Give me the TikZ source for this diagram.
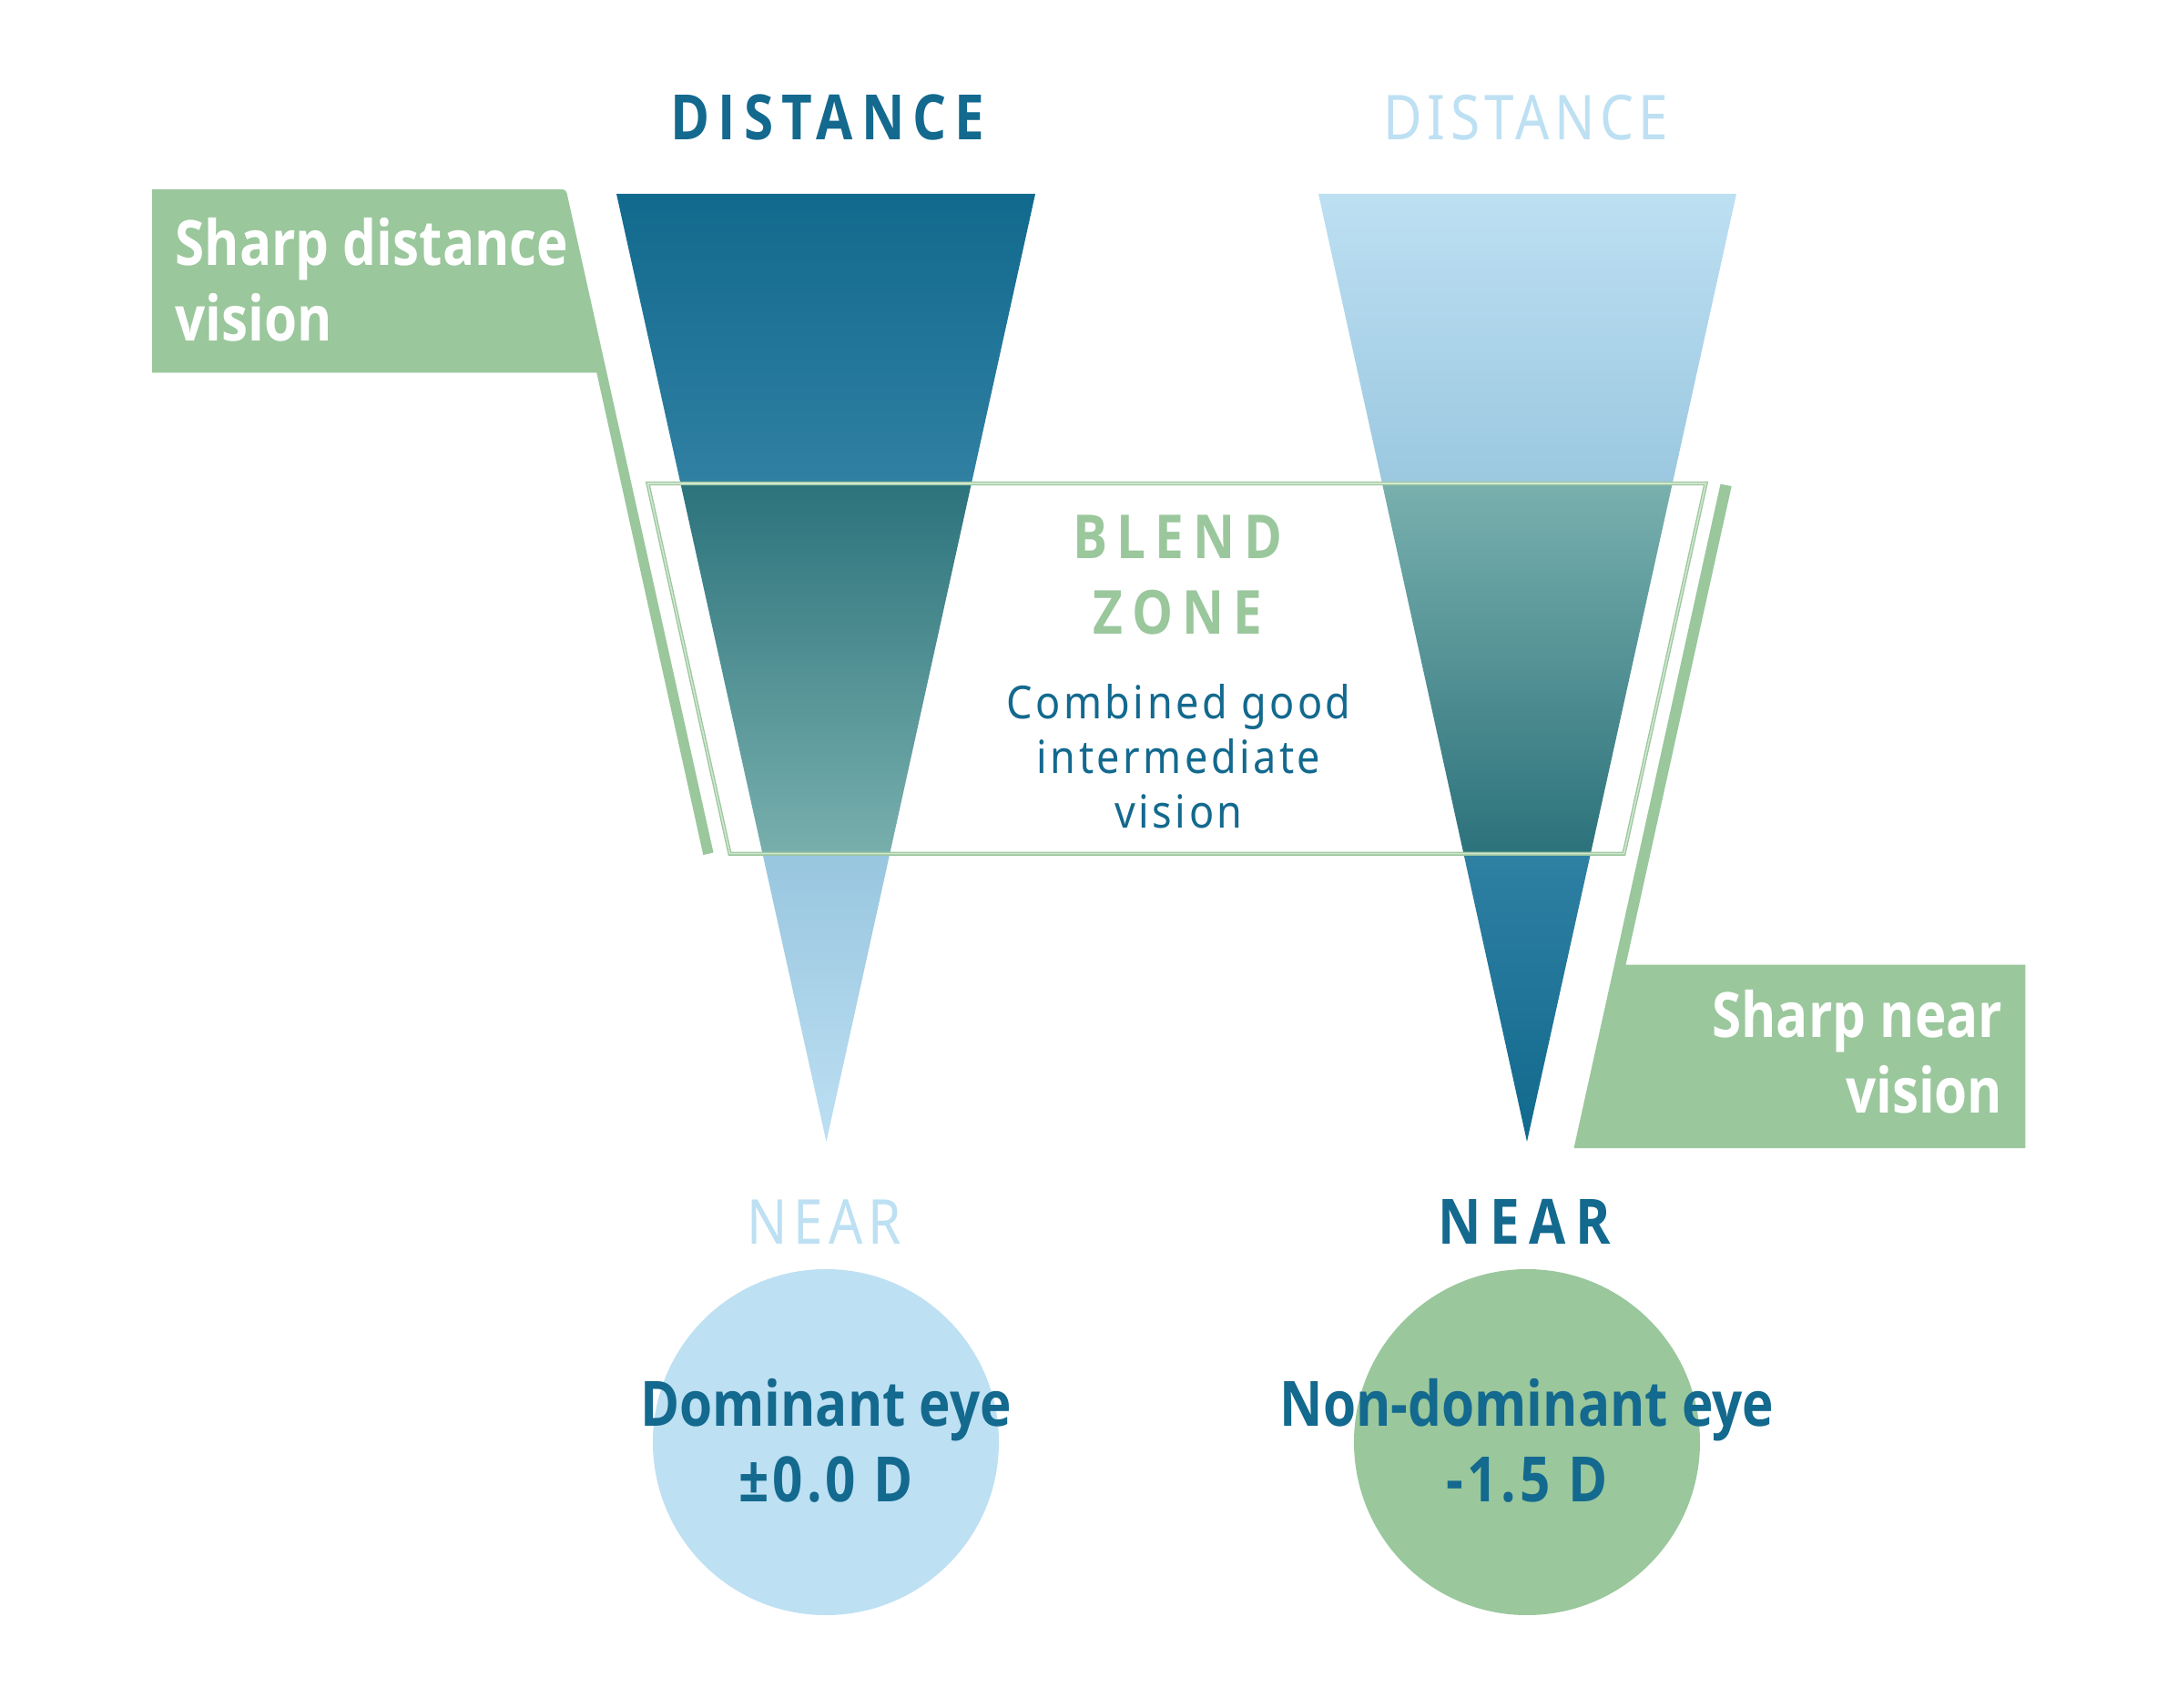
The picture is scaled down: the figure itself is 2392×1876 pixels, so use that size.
\documentclass[tikz,border=0pt]{standalone}
\usepackage{fontspec}
\setmainfont{Noto Sans}[FakeStretch=0.86]
\IfFontExistsTF{Noto Sans Bold}
  {\newfontfamily\boldf{Noto Sans Bold}[FakeStretch=0.85]}
  {\IfFontExistsTF{Open Sans Bold}
    {\newfontfamily\boldf{Open Sans Bold}[FakeStretch=0.85]}
    {\newfontfamily\boldf{Noto Sans}[FakeStretch=0.85,FakeBold=2.5]}}
\IfFontExistsTF{Noto Sans Light}
  {\newfontfamily\lightf{Noto Sans Light}[FakeStretch=0.86]}
  {\newfontfamily\lightf{Noto Sans}[FakeStretch=0.86]}
\newfontfamily\regf{Noto Sans}[FakeStretch=0.9]
\definecolor{dblue}{HTML}{13698E}
\definecolor{lblue}{HTML}{BDE0F3}
\definecolor{sgreen}{HTML}{9AC79C}
\definecolor{tA}{HTML}{10698D}
\definecolor{tB}{HTML}{3080A2}
\definecolor{tC}{HTML}{2C737C}
\definecolor{tD}{HTML}{78AFAD}
\definecolor{tE}{HTML}{98C6DF}
\definecolor{tF}{HTML}{BEE0F3}
\definecolor{uB}{HTML}{9BC8E0}
\definecolor{uC}{HTML}{79B0AE}
\definecolor{uD}{HTML}{2C727B}
\definecolor{uE}{HTML}{2F80A2}
\begin{document}
\begin{tikzpicture}[x=0.3pt,y=-0.3pt,
  bigbold/.style={inner sep=0pt, font=\fontsize{20.6}{24.9}\selectfont\boldf},
  capbold/.style={inner sep=0pt, anchor=base, text=dblue, font=\fontsize{20.6}{24.9}\selectfont\boldf\addfontfeature{LetterSpace=#1}},
  caplight/.style={inner sep=0pt, anchor=base, text=lblue, font=\fontsize{20.4}{24.9}\selectfont\lightf\addfontfeature{LetterSpace=#1}},
  labeltxt/.style={bigbold, text=white},
  eyetxt/.style={bigbold, text=dblue, align=center, anchor=base},
  blendtxt/.style={inner sep=0pt, anchor=base, align=center, text=sgreen, font=\fontsize{20}{25}\selectfont\boldf\addfontfeature{LetterSpace=15}},
  interm/.style={inner sep=0pt, anchor=base, align=center, text=dblue, font=\fontsize{15}{18}\selectfont\regf\addfontfeature{LetterSpace=7}},
  blendline/.style={draw=sgreen, line width=0.39pt, double=sgreen!45!white, double distance=0.48pt, line join=miter},
  eyecirc/.style={circle, inner sep=0pt, minimum size=114pt}
]
\fill[white] (0,0) rectangle (2392,1876);
\useasboundingbox (0,0) rectangle (2392,1876);

% left triangle (dominant eye)
\begin{scope}
  \clip (677,213) -- (1137,213) -- (907.5,1254) -- cycle;
  \shade[top color=tA, bottom color=tB] (660,205) rectangle (1150,531);
  \shade[top color=tC, bottom color=tD] (660,531) rectangle (1150,938);
  \shade[top color=tE, bottom color=tF] (660,938) rectangle (1150,1260);
\end{scope}
% right triangle (non-dominant eye)
\begin{scope}
  \clip (1448,213) -- (1907,213) -- (1677,1254) -- cycle;
  \shade[top color=tF, bottom color=uB] (1430,205) rectangle (1920,531);
  \shade[top color=uC, bottom color=uD] (1430,531) rectangle (1920,938);
  \shade[top color=uE, bottom color=tA] (1430,938) rectangle (1920,1260);
\end{scope}

% blend zone outline
\draw[blendline] (711.4,531) -- (1873.5,531) -- (1783.5,937.7) -- (801.5,937.7) -- cycle;

% left label with bar
\fill[sgreen] (167,208) -- (617.6,208) arc[start angle=-90, end angle=-12.5, radius=5] -- (783.5,936.5) -- (772.3,939) -- (655.3,409.3) -- (167,409.3) -- cycle;
% right label with bar
\fill[sgreen] (1889.5,531.7) -- (1901.7,534) -- (1785.5,1059.7) -- (2224.3,1059.7) -- (2224.3,1261.2) -- (1728.5,1261.2) -- cycle;

\node[labeltxt, align=left, anchor=base west] (sdv) at (192,375) {Sharp distance\\vision};
\node[labeltxt, align=right, anchor=base east] (snv) at (2200,1222) {Sharp near\\vision};

% headings
\node[capbold=13] (distL) at (909,154) {DISTANCE};
\node[caplight=8] (distR) at (1676,154) {DISTANCE};
\node[caplight=9] (nearL) at (905.5,1366.7) {NEAR};
\node[capbold=15] (nearR) at (1674,1366.7) {NEAR};

% blend zone texts
\node[blendtxt] (blend) at (1293.5,696.7) {BLEND\\ZONE};
\node[interm] (comb) at (1294.5,910) {Combined good\\intermediate\\vision};

% eyes
\node[eyecirc, fill=lblue] (deye) at (907,1584) {};
\node[eyecirc, fill=sgreen] (ndeye) at (1677,1584) {};
\node[eyetxt] (deyet) at (907,1649.3) {Dominant eye\\{\addfontfeature{LetterSpace=6}±0.0 D}};
\node[eyetxt] (ndeyet) at (1677,1649.3) {Non-dominant eye\\{\addfontfeature{LetterSpace=6}-1.5 D}};
\end{tikzpicture}
\end{document}
